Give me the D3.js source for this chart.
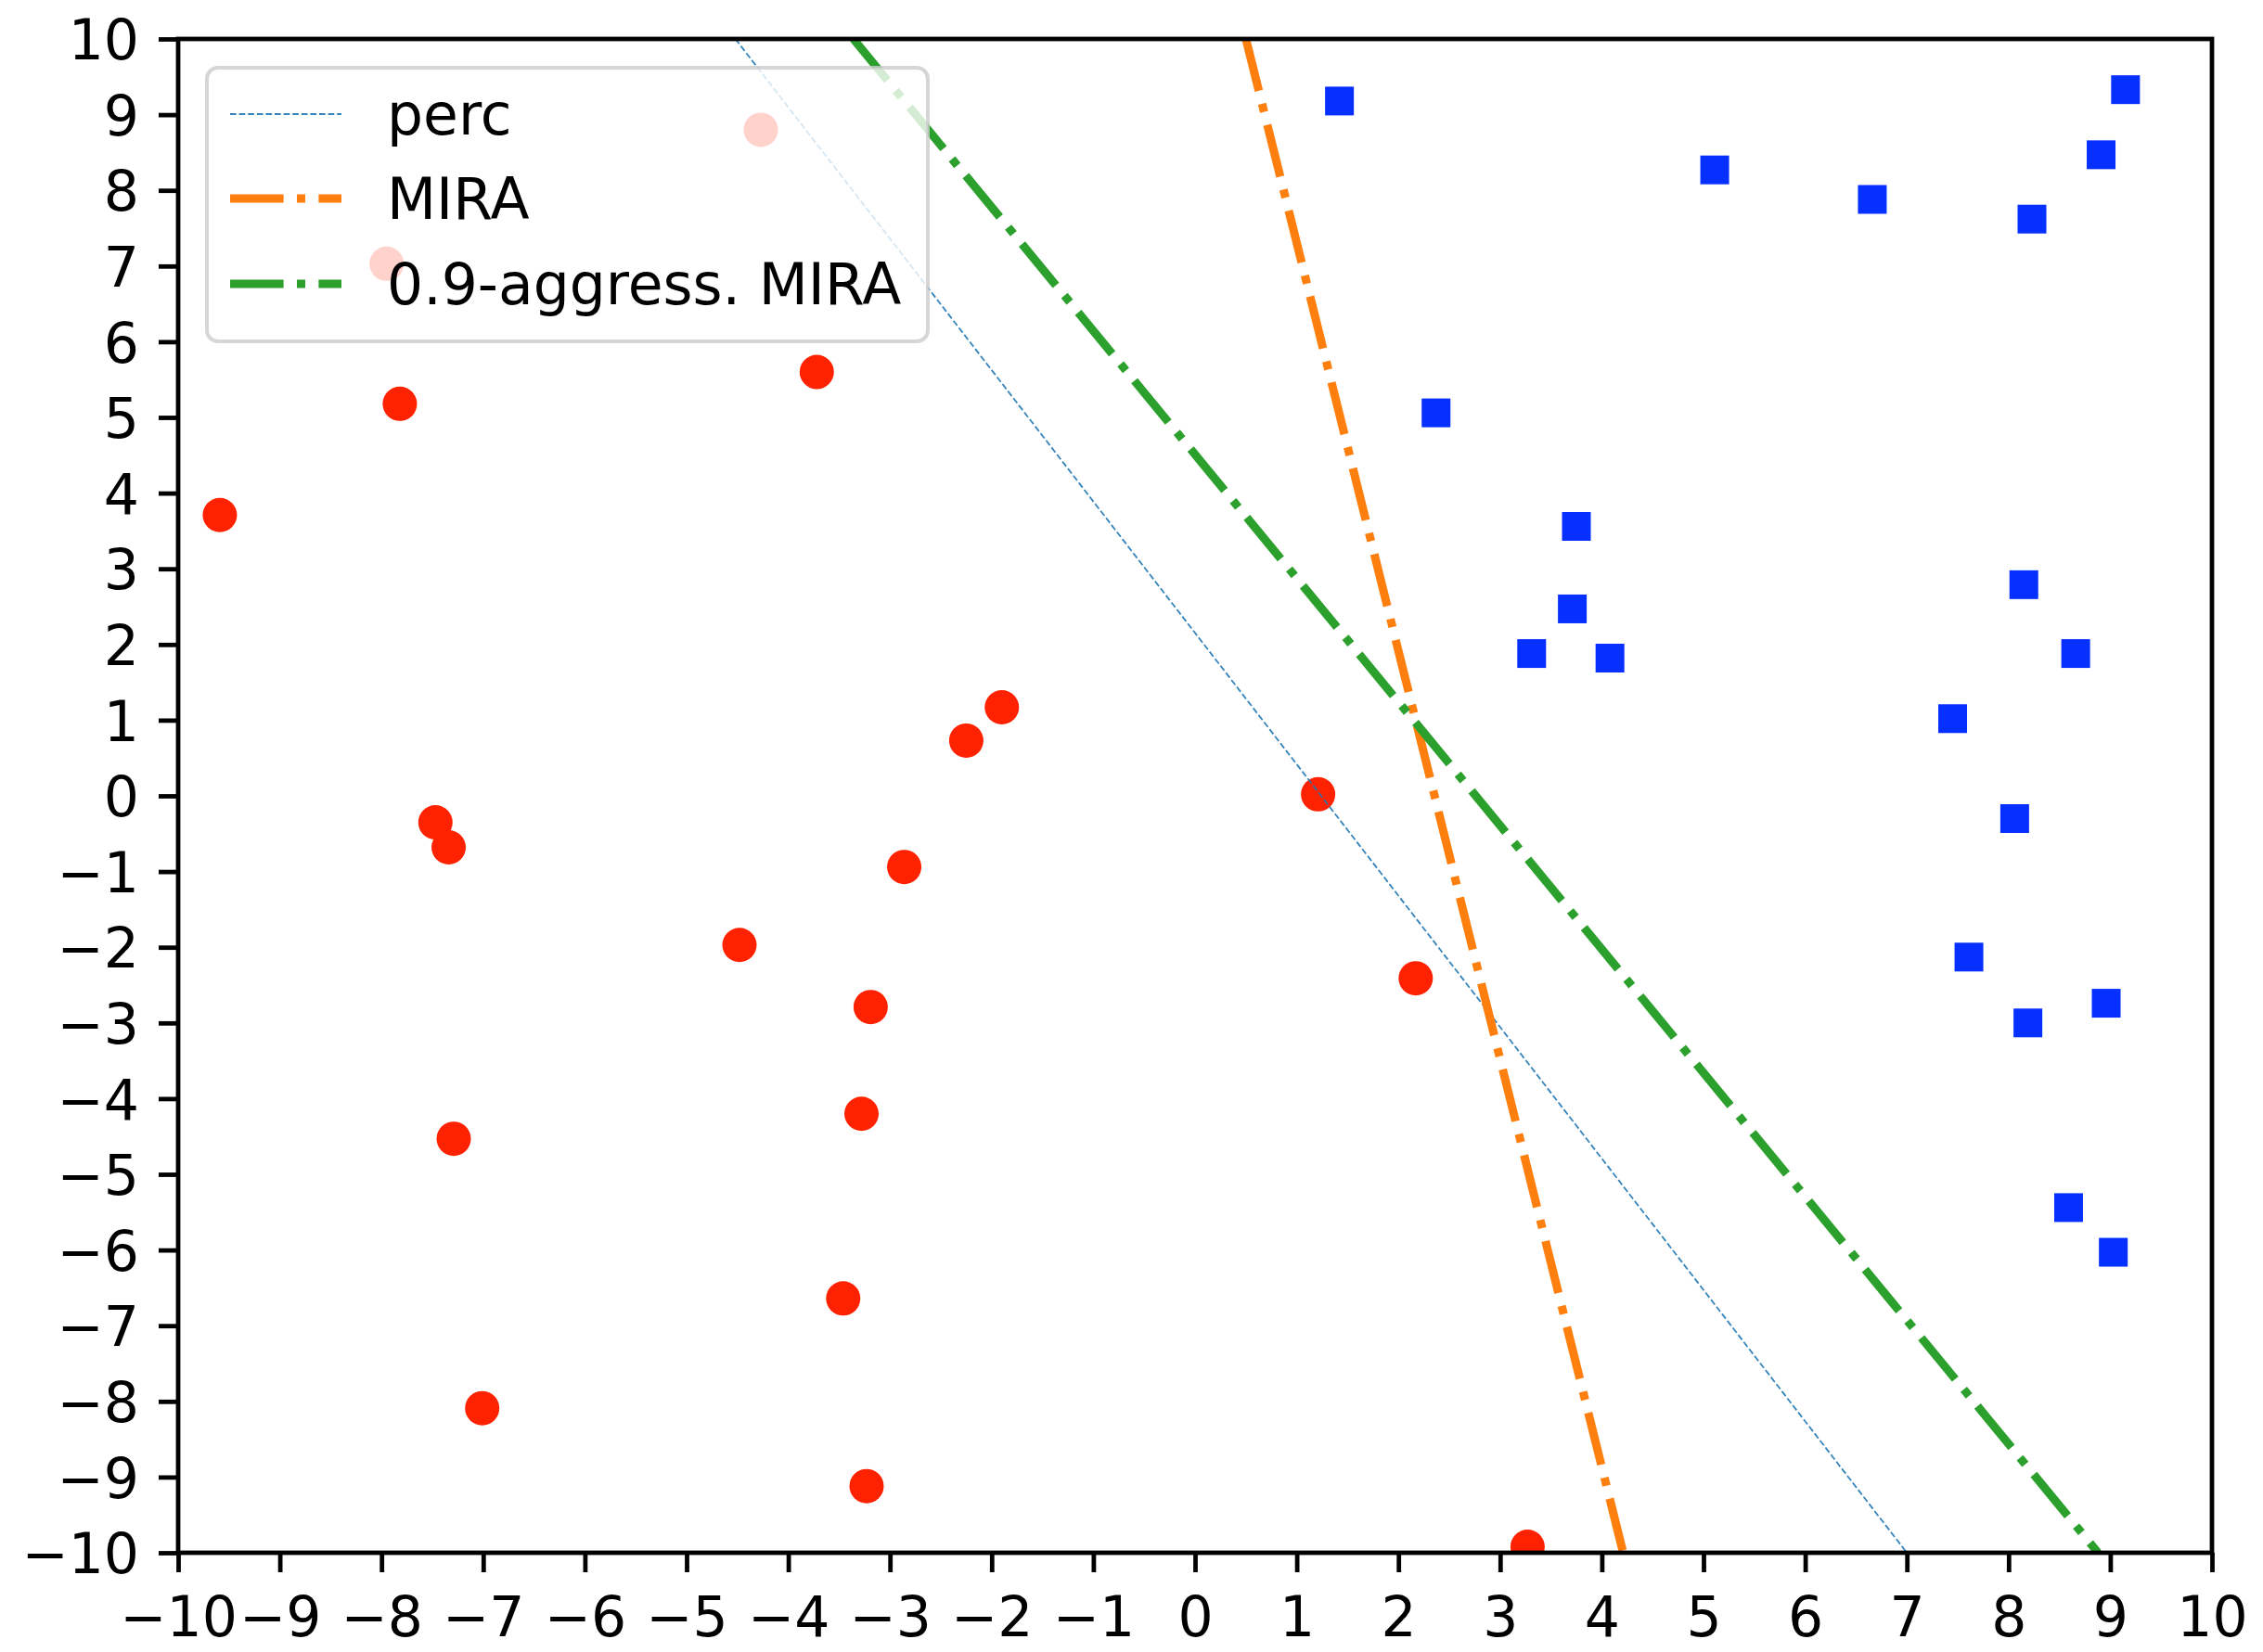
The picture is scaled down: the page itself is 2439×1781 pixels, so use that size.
<!DOCTYPE html>
<html>
<head>
<meta charset="utf-8">
<script src="https://cdn.jsdelivr.net/npm/d3@7"></script>
<style>
  html, body { margin: 0; padding: 0; background: #ffffff; }
  svg { display: block; }
</style>
</head>
<body>
<div id="chart"></div>
<script>
// ---- data ----
const xTicks = [-10,-9,-8,-7,-6,-5,-4,-3,-2,-1,0,1,2,3,4,5,6,7,8,9,10];
const yTicks = [-10,-9,-8,-7,-6,-5,-4,-3,-2,-1,0,1,2,3,4,5,6,7,8,9,10];

const negX = [-4.27,-7.95,-7.82,-3.72,-9.59,-1.90,-2.25,1.21,-7.47,-7.34,-2.86,-4.48,2.17,-3.19,-3.28,-7.29,-3.46,-7.01,-3.23,3.27];
const negY = [8.80,7.03,5.18,5.60,3.71,1.17,0.73,0.02,-0.35,-0.68,-0.94,-1.97,-2.41,-2.79,-4.20,-4.53,-6.64,-8.09,-9.12,-9.92];

const posX = [1.42,9.15,8.91,5.11,6.66,8.23,2.37,3.75,3.71,3.31,4.08,8.15,8.66,7.45,8.06,7.61,8.19,8.96,8.59,9.03];
const posY = [9.18,9.33,8.47,8.27,7.88,7.62,5.06,3.56,2.47,1.88,1.82,2.79,1.88,1.02,-0.30,-2.13,-3.00,-2.74,-5.44,-6.03];

const lineNames = ["perc", "MIRA", "0.9-aggress. MIRA"];
const lineX1 = [-4.52, 0.50, -3.36];
const lineY1 = [10, 10, 10];
const lineX2 = [7.00, 4.21, 8.88];
const lineY2 = [-10, -10, -10];

// ---- layout / style ----
const W = 2439, H = 1781;
const L = 192, R = 2384, T = 42, B = 1674;
const FONT = "DejaVu Sans";
const lineColors = ["#1f77b4", "#ff7f0e", "#2ca02c"];
const lineWidths = [1.8, 9, 9];
const lineDash = ["6.7,2.9", "57.6,14.4,9,14.4", "57.6,14.4,9,14.4"];
const lineOpacity = [0.9, 1, 1];

const svg = d3.select("#chart").append("svg")
  .attr("width", W).attr("height", H)
  .style("font-family", FONT);

const x = d3.scaleLinear().domain([-10, 10]).range([L, R]);
const y = d3.scaleLinear().domain([-10, 10]).range([B, T]);

svg.append("defs").append("clipPath").attr("id", "plotclip")
  .append("rect").attr("x", L).attr("y", T).attr("width", R - L).attr("height", B - T);

const plot = svg.append("g").attr("clip-path", "url(#plotclip)");

// negative class: red circles
plot.selectAll("circle.neg").data(negX.map((v, i) => [v, negY[i]]))
  .enter().append("circle")
  .attr("class", "neg")
  .attr("cx", d => x(d[0])).attr("cy", d => y(d[1]))
  .attr("r", 18.5)
  .attr("fill", "#ff2200");

// positive class: blue squares
const sq = 31;
plot.selectAll("rect.pos").data(posX.map((v, i) => [v, posY[i]]))
  .enter().append("rect")
  .attr("class", "pos")
  .attr("x", d => x(d[0]) - sq / 2).attr("y", d => y(d[1]) - sq / 2)
  .attr("width", sq).attr("height", sq)
  .attr("fill", "#0630ff");

// separating lines
lineNames.forEach((n, i) => {
  plot.append("line")
    .attr("x1", x(lineX1[i])).attr("y1", y(lineY1[i]))
    .attr("x2", x(lineX2[i])).attr("y2", y(lineY2[i]))
    .attr("stroke", lineColors[i])
    .attr("stroke-width", lineWidths[i])
    .attr("stroke-dasharray", lineDash[i])
    .attr("stroke-opacity", lineOpacity[i])
    .attr("stroke-linecap", "butt");
});

// axes
const fmt = d => d3.format("d")(d);
const gx = svg.append("g").attr("transform", `translate(0,${B})`)
  .call(d3.axisBottom(x).tickValues(xTicks).tickFormat(fmt).tickSize(21).tickPadding(21));
const gy = svg.append("g").attr("transform", `translate(${L},0)`)
  .call(d3.axisLeft(y).tickValues(yTicks).tickFormat(fmt).tickSize(21).tickPadding(21));

[gx, gy].forEach(g => {
  g.select(".domain").remove();
  g.selectAll(".tick line").attr("stroke", "#000").attr("stroke-width", 4.8);
  g.selectAll(".tick text").attr("fill", "#000")
    .style("font-family", FONT).style("font-size", "60px");
});
gx.selectAll(".tick text").attr("dy", "0.8em");
gy.selectAll(".tick text").attr("dy", "0.36em");

// frame
svg.append("rect")
  .attr("x", L).attr("y", T).attr("width", R - L).attr("height", B - T)
  .attr("fill", "none").attr("stroke", "#000").attr("stroke-width", 4.8);

// legend
const lg = svg.append("g");
lg.append("rect")
  .attr("x", 223).attr("y", 73).attr("width", 777).attr("height", 295)
  .attr("rx", 12).attr("ry", 12)
  .attr("fill", "#ffffff").attr("fill-opacity", 0.8)
  .attr("stroke", "#cccccc").attr("stroke-opacity", 0.8).attr("stroke-width", 4);

const rowY = [123, 214, 306];
lineNames.forEach((n, i) => {
  lg.append("line")
    .attr("x1", 248).attr("x2", 368)
    .attr("y1", rowY[i]).attr("y2", rowY[i])
    .attr("stroke", lineColors[i])
    .attr("stroke-width", lineWidths[i])
    .attr("stroke-dasharray", lineDash[i])
    .attr("stroke-opacity", lineOpacity[i]);
  lg.append("text")
    .attr("x", 417).attr("y", rowY[i] + 22)
    .attr("fill", "#000")
    .style("font-family", FONT).style("font-size", "61.5px")
    .text(n);
});
</script>
</body>
</html>
